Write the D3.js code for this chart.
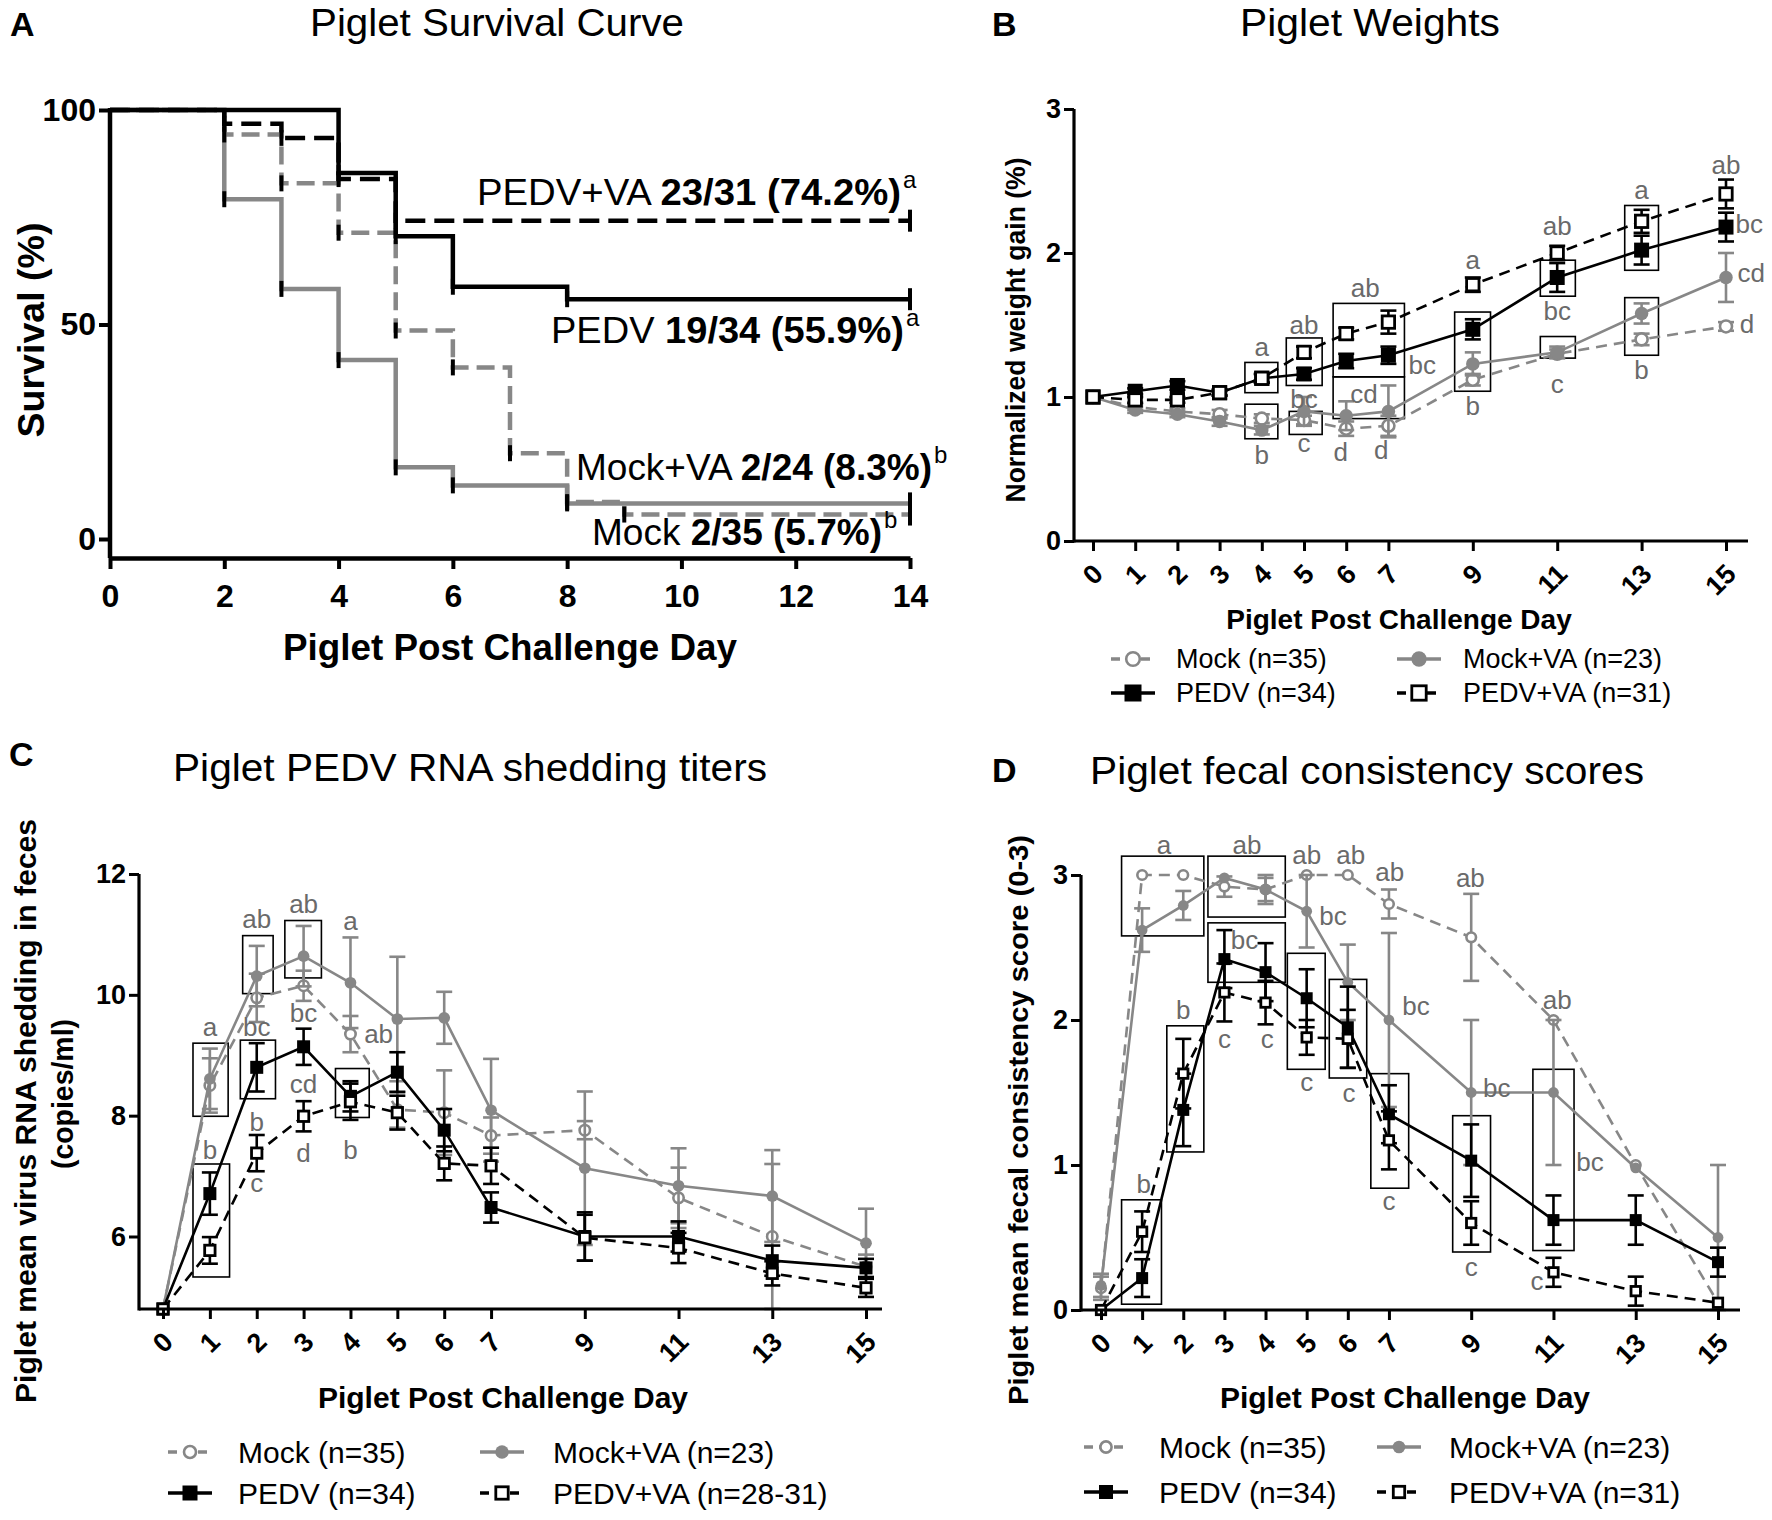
<!DOCTYPE html>
<html><head><meta charset="utf-8">
<script src="https://cdn.jsdelivr.net/npm/d3@7"></script>
<style>
body{margin:0;background:#fff}
svg{display:block}
text{font-family:"Liberation Sans",Arial,Helvetica,sans-serif}
</style>
</head><body>
<svg id="c" width="1772" height="1520"></svg>
<script>
// ---------------- DATA ----------------
// Panel A: Kaplan-Meier survival steps (day, % survival)
const survPEDV_t   = [0,4,5,6,8,14];
const survPEDV_s   = [100,85.3,70.6,58.8,55.9,55.9];
const survPEDVVA_t = [0,2,3,4,5,14];
const survPEDVVA_s = [100,96.8,93.5,83.9,74.2,74.2];
const survMockVA_t = [0,2,3,4,5,6,8,14];
const survMockVA_s = [100,79.2,58.3,41.7,16.7,12.5,8.3,8.3];
const survMock_t   = [0,2,3,4,5,6,7,8,9,14];
const survMock_s   = [100,94.3,82.9,71.4,48.6,40,20,8.6,5.7,5.7];
const survXTicks = [0,2,4,6,8,10,12,14];
const survYTicks = [0,50,100];

// Shared days for B, C, D
const days = [0,1,2,3,4,5,6,7,9,11,13,15];

// Panel B: normalized weight gain
const wMock        = [1.0,0.93,0.90,0.88,0.85,0.84,0.78,0.80,1.12,1.30,1.40,1.49];
const wMockErr     = [0,0.02,0.02,0.03,0.03,0.03,0.05,0.07,0.04,0.03,0.04,0.03];
const wMockVA      = [1.0,0.91,0.88,0.83,0.77,0.90,0.87,0.90,1.23,1.31,1.58,1.83];
const wMockVAErr   = [0,0.02,0.02,0.03,0.03,0.10,0.10,0.18,0.08,0.04,0.07,0.17];
const wPEDV        = [1.0,1.04,1.08,1.03,1.13,1.16,1.25,1.29,1.47,1.83,2.02,2.18];
const wPEDVErr     = [0,0.02,0.03,0.02,0.03,0.04,0.05,0.06,0.07,0.10,0.10,0.10];
const wPEDVVA      = [1.0,0.98,0.98,1.03,1.13,1.31,1.44,1.52,1.78,2.00,2.22,2.41];
const wPEDVVAErr   = [0,0.02,0.02,0.02,0.03,0.04,0.04,0.08,0.05,0.05,0.08,0.10];
const wYTicks = [0,1,2,3];

// Panel C: virus RNA shedding titers
const vMock        = [4.8,8.50,9.95,10.15,9.35,8.10,8.05,7.67,7.76,6.64,6.00,5.50];
const vMockErr     = [0,0.45,0.40,0.25,0.30,0.30,0.70,0.30,0.15,0.50,1.20,0.20];
const vMockVA      = [4.8,8.61,10.31,10.64,10.20,9.60,9.62,8.09,7.13,6.84,6.67,5.89];
const vMockVAErr   = [0,0.50,0.50,0.50,0.75,1.03,0.43,0.85,1.27,0.62,0.76,0.57];
const vPEDV        = [4.8,6.71,8.80,9.14,8.32,8.72,7.76,6.48,6.00,6.00,5.60,5.48];
const vPEDVErr     = [0,0.35,0.40,0.30,0.25,0.33,0.35,0.25,0.40,0.25,0.25,0.15];
const vPEDVVA      = [4.8,5.77,7.38,7.99,8.23,8.05,7.21,7.17,5.98,5.81,5.39,5.15];
const vPEDVVAErr   = [0,0.22,0.30,0.25,0.30,0.28,0.28,0.30,0.38,0.25,0.20,0.15];
const vYTicks = [6,8,10,12];

// Panel D: fecal consistency scores
const fMock        = [0.15,3.0,3.0,2.92,2.90,3.0,3.0,2.80,2.57,2.0,1.0,0.05];
const fMockErr     = [0.08,0,0,0.07,0.08,0,0,0.10,0.30,0,0,0];
const fMockVA      = [0.17,2.62,2.79,2.98,2.90,2.75,2.26,2.0,1.5,1.5,0.98,0.5];
const fMockVAErr   = [0.08,0.15,0.10,0,0.10,0.25,0.26,0.60,0.50,0.50,0,0.50];
const fPEDV        = [0,0.22,1.38,2.42,2.33,2.15,1.95,1.35,1.03,0.62,0.62,0.33];
const fPEDVErr     = [0,0.13,0.25,0.20,0.20,0.20,0.28,0.20,0.25,0.17,0.17,0.10];
const fPEDVVA      = [0,0.54,1.63,2.19,2.12,1.88,1.87,1.17,0.60,0.26,0.13,0.05];
const fPEDVVAErr   = [0,0.14,0.24,0.20,0.15,0.12,0.20,0.20,0.15,0.10,0.10,0];
const fYTicks = [0,1,2,3];

// Significance boxes [x0,x1,y0,y1] in data units
const boxesB = [[3.6,4.38,1.03,1.24],[3.6,4.38,0.71,0.95],[4.58,5.43,1.08,1.41],[4.65,5.43,0.74,0.9],
  [5.69,7.38,1.14,1.65],[5.69,7.38,0.85,1.14],[8.57,9.42,1.04,1.59],[10.6,11.43,1.7,1.95],
  [10.6,11.43,1.27,1.42],[12.6,13.4,1.88,2.33],[12.6,13.4,1.29,1.69]];
const boxesC = [[0.64,1.39,7.99,9.2],[0.64,1.42,5.33,7.2],[1.7,2.35,10.02,10.98],[1.65,2.4,8.28,9.25],
  [2.6,3.38,10.28,11.23],[3.68,4.4,7.97,8.78]];
const boxesD = [[0.5,2.5,2.58,3.13],[2.6,4.48,2.71,3.13],[2.6,4.48,2.26,2.67],[0.5,1.47,0.04,0.76],
  [1.6,2.5,1.09,1.96],[4.53,5.45,1.66,2.46],[5.55,6.46,1.6,2.28],[6.56,7.48,0.84,1.63],
  [8.55,9.47,0.4,1.34],[10.5,11.5,0.41,1.66]];

// Significance letters: text, x(day), y(value)
const lettersB_t = ["a","b","ab","bc","c","ab","cd","d","d","bc","a","b","ab","bc","c","a","b","ab","bc","cd","d"];
const lettersB_x = [4,4,5,5,5,6.45,6.42,5.87,6.83,7.8,9,9,11,11,11,13,13,15,15.55,15.6,15.5];
const lettersB_y = [1.35,0.6,1.5,0.99,0.68,1.76,1.02,0.62,0.63,1.22,1.95,0.94,2.19,1.6,1.09,2.44,1.19,2.61,2.2,1.86,1.51];
const lettersC_t = ["a","ab","ab","a","bc","bc","ab","cd","b","b","c","d","b"];
const lettersC_x = [1,2,3,4,2,3,4.6,3,1,2,2,3,4];
const lettersC_y = [9.47,11.25,11.5,11.23,9.47,9.7,9.35,8.53,7.44,7.9,6.88,7.38,7.44];
const lettersD_t = ["a","ab","ab","ab","ab","ab","ab","bc","bc","c","c","c","c","c","c","c","bc","bc","bc","b","b"];
const lettersD_x = [1.53,3.55,5.0,6.07,7.02,8.98,11.09,5.64,3.49,3,4.04,5,6.03,7,9,10.6,7.66,9.62,11.89,2,1.04];
const lettersD_y = [3.21,3.21,3.14,3.14,3.02,2.98,2.14,2.72,2.55,1.87,1.87,1.57,1.5,0.75,0.3,0.2,2.1,1.53,1.02,2.07,0.87];

const legendB = ["Mock (n=35)","Mock+VA (n=23)","PEDV (n=34)","PEDV+VA (n=31)"];
const legendC = ["Mock (n=35)","Mock+VA (n=23)","PEDV (n=34)","PEDV+VA (n=28-31)"];
const legendD = ["Mock (n=35)","Mock+VA (n=23)","PEDV (n=34)","PEDV+VA (n=31)"];

// ---------------- DRAWING ----------------
const GRAY = "#878787", LETTER = "#6a6a6a";
const svg = d3.select("#c");

function label(g, x, y, s, size, weight, anchor, rot, fill, len) {
  const t = g.append("text").attr("x", x).attr("y", y).text(s)
    .attr("font-size", size).attr("font-weight", weight || "normal")
    .attr("text-anchor", anchor || "start").attr("fill", fill || "#000");
  if (rot) t.attr("transform", `rotate(${rot},${x},${y})`);
  if (len) t.attr("textLength", len).attr("lengthAdjust", "spacingAndGlyphs");
  return t;
}

// ===== Panel A =====
(function(){
  const g = svg.append("g");
  const x = d3.scaleLinear().domain([0,14]).range([110,910]);
  const y = d3.scaleLinear().domain([0,100]).range([539,110]);
  const axisY = 558;
  label(g, 10, 36, "A", 34, "bold");
  label(g, 497, 36, "Piglet Survival Curve", 39, "normal", "middle", 0, "#000", 374);

  const series = [
    {t: survMockVA_t, s: survMockVA_s, color: GRAY, dash: null},
    {t: survMock_t, s: survMock_s, color: GRAY, dash: "18,8"},
    {t: survPEDV_t, s: survPEDV_s, color: "#000", dash: null},
    {t: survPEDVVA_t, s: survPEDVVA_s, color: "#000", dash: "20,9"}
  ];
  const line = d3.line().x(d => x(d[0])).y(d => y(d[1])).curve(d3.curveStepAfter);
  series.forEach(se => {
    const pts = se.t.map((t,i) => [t, se.s[i]]);
    g.append("path").attr("d", line(pts)).attr("fill","none").attr("stroke", se.color)
      .attr("stroke-width", 4.5).attr("stroke-dasharray", se.dash);
  });
  series.forEach(se => {
    se.t.forEach((t,i) => {
      if (i === 0) return;
      const h = (i === se.t.length-1) ? 11 : 8;
      g.append("line").attr("x1", x(t)).attr("x2", x(t))
        .attr("y1", y(se.s[i]) - h).attr("y2", y(se.s[i]) + h)
        .attr("stroke", "#000").attr("stroke-width", 4);
    });
  });

  // axes
  const xa = g.append("g").attr("transform", `translate(0,${axisY})`)
    .call(d3.axisBottom(x).tickValues(survXTicks).tickSize(11).tickSizeOuter(0).tickFormat(d3.format("d")));
  xa.select(".domain").attr("stroke-width", 4.5);
  xa.selectAll(".tick line").attr("stroke-width", 4);
  xa.selectAll(".tick text").attr("font-size", 32).attr("font-weight", "bold").attr("dy", "1.1em")
    .attr("font-family", "Liberation Sans").attr("fill", "#000");
  const ya = g.append("g").attr("transform", `translate(${x(0)},0)`)
    .call(d3.axisLeft(y).tickValues(survYTicks).tickSize(11).tickSizeOuter(0).tickFormat(d3.format("d")));
  ya.select(".domain").remove();
  ya.selectAll(".tick line").attr("stroke-width", 4);
  ya.selectAll(".tick text").attr("font-size", 32).attr("font-weight", "bold").attr("x", -14)
    .attr("font-family", "Liberation Sans").attr("fill", "#000");
  g.append("line").attr("x1", x(0)).attr("x2", x(0)).attr("y1", y(100)-2).attr("y2", axisY)
    .attr("stroke", "#000").attr("stroke-width", 4.5);

  label(g, 510, 660, "Piglet Post Challenge Day", 36, "bold", "middle", 0, "#000", 454);
  label(g, 44, 330, "Survival (%)", 36, "bold", "middle", -90, "#000", 215);

  // annotations
  const ann = [
    {x: 477, y: 205, n: "PEDV+VA ", b: "23/31 (74.2%)", sup: "a", len: 424},
    {x: 551, y: 343, n: "PEDV ", b: "19/34 (55.9%)", sup: "a", len: 353},
    {x: 576, y: 480, n: "Mock+VA ", b: "2/24 (8.3%)", sup: "b", len: 356},
    {x: 592, y: 545, n: "Mock ", b: "2/35 (5.7%)", sup: "b", len: 290}
  ];
  ann.forEach(a => {
    const t = g.append("text").attr("x", a.x).attr("y", a.y).attr("font-size", 37)
      .attr("textLength", a.len).attr("lengthAdjust", "spacingAndGlyphs");
    t.append("tspan").text(a.n);
    t.append("tspan").attr("font-weight", "bold").text(a.b);
    label(g, a.x + a.len + 2, a.y - 17, a.sup, 24, "normal");
  });
})();

// ===== generic line panel =====
function linePanel(p) {
  const g = svg.append("g");
  const x = d3.scaleLinear().domain([0,15]).range(p.xr);
  const y = d3.scaleLinear().domain(p.yd).range(p.yr);
  const axisY = p.yr[0];

  label(g, p.letter[1], p.letter[2], p.letter[0], 34, "bold");
  label(g, p.title[1], p.title[2], p.title[0], 39, "normal", "middle", 0, "#000", p.title[3]);

  // boxes
  p.boxes.forEach(b => {
    g.append("rect").attr("x", x(b[0])).attr("y", y(b[3]))
      .attr("width", x(b[1]) - x(b[0])).attr("height", y(b[2]) - y(b[3]))
      .attr("fill", "none").attr("stroke", "#000").attr("stroke-width", 1.6);
  });

  const cap = p.cap;
  p.series.forEach(se => {
    const pts = days.map((d,i) => ({d, v: se.v[i], e: se.e[i]}));
    pts.filter(q => q.e > 0).forEach(q => {
      const eg = g.append("g").attr("stroke", se.color).attr("stroke-width", 2.6);
      eg.append("line").attr("x1", x(q.d)).attr("x2", x(q.d)).attr("y1", y(q.v - q.e)).attr("y2", y(q.v + q.e));
      eg.append("line").attr("x1", x(q.d)-cap).attr("x2", x(q.d)+cap).attr("y1", y(q.v + q.e)).attr("y2", y(q.v + q.e));
      eg.append("line").attr("x1", x(q.d)-cap).attr("x2", x(q.d)+cap).attr("y1", y(q.v - q.e)).attr("y2", y(q.v - q.e));
    });
    g.append("path").attr("d", d3.line().x(q => x(q.d)).y(q => y(q.v))(pts))
      .attr("fill", "none").attr("stroke", se.color).attr("stroke-width", se.w || 2.6)
      .attr("stroke-dasharray", se.dash);
    pts.forEach(q => drawMarker(g, se.marker, x(q.d), y(q.v), p.ms));
  });

  // letters
  p.letters.t.forEach((s,i) => {
    label(g, x(p.letters.x[i]), y(p.letters.y[i]), s, 26, "normal", "middle", 0, LETTER).attr("dy", "0.35em");
  });

  // axes
  const xa = g.append("g").attr("transform", `translate(0,${axisY})`)
    .call(d3.axisBottom(x).tickValues(days).tickSize(10).tickSizeOuter(0).tickFormat(""));
  xa.select(".domain").remove();
  xa.selectAll(".tick line").attr("stroke-width", 3);
  g.append("line").attr("x1", p.yAxisX).attr("x2", p.xEnd).attr("y1", axisY).attr("y2", axisY)
    .attr("stroke", "#000").attr("stroke-width", 3.2);
  days.forEach(d => {
    label(g, x(d) + 5, axisY + 28, String(d), 27, "bold", "end", -45).attr("dy", "0.35em");
  });
  const ya = g.append("g").attr("transform", `translate(${p.yAxisX},0)`)
    .call(d3.axisLeft(y).tickValues(p.yTicks).tickSize(10).tickSizeOuter(0).tickFormat(d3.format("d")));
  ya.select(".domain").remove();
  ya.selectAll(".tick line").attr("stroke-width", 3);
  ya.selectAll(".tick text").attr("font-size", 27).attr("font-weight", "bold").attr("x", -13)
    .attr("font-family", "Liberation Sans").attr("fill", "#000");
  g.append("line").attr("x1", p.yAxisX).attr("x2", p.yAxisX).attr("y1", p.yr[1]).attr("y2", axisY + 1.5)
    .attr("stroke", "#000").attr("stroke-width", 3.2);

  // axis titles
  label(g, p.xTitle[0], p.xTitle[1], "Piglet Post Challenge Day", p.xTitle[2], "bold", "middle");
  p.yTitle.forEach(t => label(g, t[1], t[2], t[0], t[3], "bold", "middle", -90, "#000", t[4]));

  // legend
  p.legend.labels.forEach((s,i) => {
    const se = p.series[i];
    const col = i % 2, row = Math.floor(i / 2);
    const cx = p.legend.sym[col], cy = p.legend.rows[row];
    g.append("line").attr("x1", cx - 22).attr("x2", cx + 22).attr("y1", cy).attr("y2", cy)
      .attr("stroke", se.color).attr("stroke-width", 3.5).attr("stroke-dasharray", se.dash ? "9,6" : null);
    drawMarker(g, se.marker, cx, cy, p.ms + 2);
    label(g, p.legend.text[col], cy, s, p.legend.size, "normal").attr("dy", "0.35em");
  });
}

function drawMarker(g, type, cx, cy, s) {
  if (type === "oc") g.append("circle").attr("cx", cx).attr("cy", cy).attr("r", s*0.4)
      .attr("fill", "#fff").attr("stroke", GRAY).attr("stroke-width", 2.6);
  else if (type === "fc") g.append("circle").attr("cx", cx).attr("cy", cy).attr("r", s*0.45).attr("fill", GRAY);
  else if (type === "fs") g.append("rect").attr("x", cx - s/2).attr("y", cy - s/2).attr("width", s).attr("height", s).attr("fill", "#000");
  else if (type === "os") g.append("rect").attr("x", cx - s/2 + 1.3).attr("y", cy - s/2 + 1.3)
      .attr("width", s - 2.6).attr("height", s - 2.6).attr("fill", "#fff").attr("stroke", "#000").attr("stroke-width", 2.8);
}

function mkSeries(m, me, mv, mve, p, pe, pv, pve) {
  return [
    {v: m, e: me, color: GRAY, dash: "11,7", marker: "oc"},
    {v: mv, e: mve, color: GRAY, dash: null, marker: "fc"},
    {v: p, e: pe, color: "#000", dash: null, marker: "fs"},
    {v: pv, e: pve, color: "#000", dash: "11,7", marker: "os"}
  ];
}

// ===== Panel B =====
linePanel({
  letter: ["B", 992, 36], title: ["Piglet Weights", 1370, 36, 260],
  xr: [1093,1726], yd: [0,3], yr: [541,109], yAxisX: 1074, xEnd: 1748, yTicks: wYTicks,
  ms: 15, cap: 8,
  series: mkSeries(wMock,wMockErr,wMockVA,wMockVAErr,wPEDV,wPEDVErr,wPEDVVA,wPEDVVAErr),
  boxes: boxesB, letters: {t: lettersB_t, x: lettersB_x, y: lettersB_y},
  xTitle: [1399, 629, 28], yTitle: [["Normalized weight gain (%)", 1025, 330, 27, 345]],
  legend: {labels: legendB, sym: [1133,1419], text: [1176,1463], rows: [659,693], size: 27}
});

// ===== Panel C =====
linePanel({
  letter: ["C", 9, 766], title: ["Piglet PEDV RNA shedding titers", 470, 781, 594],
  xr: [163,866], yd: [4.8,12], yr: [1309,874], yAxisX: 139, xEnd: 882, yTicks: vYTicks,
  ms: 13, cap: 8,
  series: mkSeries(vMock,vMockErr,vMockVA,vMockVAErr,vPEDV,vPEDVErr,vPEDVVA,vPEDVVAErr),
  boxes: boxesC, letters: {t: lettersC_t, x: lettersC_x, y: lettersC_y},
  xTitle: [503, 1408, 30], yTitle: [["Piglet mean virus RNA shedding in feces", 36, 1111, 29, 584],["(copies/ml)", 73, 1094, 29, 150]],
  legend: {labels: legendC, sym: [190,502], text: [238,553], rows: [1452,1493], size: 30}
});

// ===== Panel D =====
linePanel({
  letter: ["D", 992, 782], title: ["Piglet fecal consistency scores", 1367, 784, 554],
  xr: [1101,1718], yd: [0,3], yr: [1310,875], yAxisX: 1081, xEnd: 1740, yTicks: fYTicks,
  ms: 12, cap: 8,
  series: mkSeries(fMock,fMockErr,fMockVA,fMockVAErr,fPEDV,fPEDVErr,fPEDVVA,fPEDVVAErr),
  boxes: boxesD, letters: {t: lettersD_t, x: lettersD_x, y: lettersD_y},
  xTitle: [1405, 1408, 30], yTitle: [["Piglet mean fecal consistency score  (0-3)", 1028, 1120, 28, 570]],
  legend: {labels: legendD, sym: [1106,1399], text: [1159,1449], rows: [1447,1492], size: 30}
});
</script>
</body></html>
